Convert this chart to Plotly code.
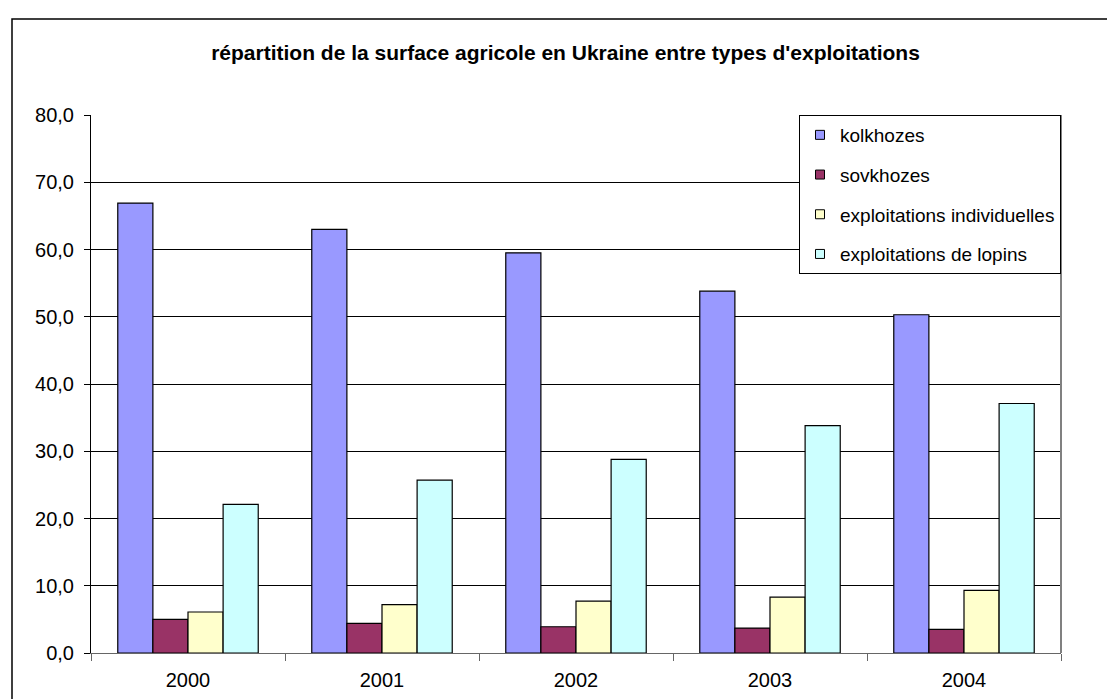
import plotly.graph_objects as go

years = ["2000", "2001", "2002", "2003", "2004"]
kolkhozes = [66.9, 63.0, 59.5, 53.8, 50.3]
sovkhozes = [5.0, 4.4, 3.9, 3.7, 3.5]
individuelles = [6.1, 7.2, 7.7, 8.3, 9.3]
lopins = [22.1, 25.7, 28.8, 33.8, 37.1]

series = [
    ("kolkhozes", kolkhozes, "#9999FF"),
    ("sovkhozes", sovkhozes, "#993366"),
    ("exploitations individuelles", individuelles, "#FFFFCC"),
    ("exploitations de lopins", lopins, "#CCFFFF"),
]

FONT = "Liberation Sans, Arial, sans-serif"

fig = go.Figure()
for name, vals, col in series:
    fig.add_trace(go.Bar(
        x=years, y=vals, name=name, showlegend=False,
        marker=dict(color=col, line=dict(color="black", width=1.2)),
    ))
for i, (name, vals, col) in enumerate(series):
    fig.add_trace(go.Scatter(
        x=[None], y=[None], mode="markers", name=name, legendgroup=f"g{i}",
        marker=dict(symbol="square", size=9, color=col, line=dict(color="black", width=1)),
    ))

W, H = 1115, 699
L, R, T, B = 83, 1053, 107, 645
pw, ph = R - L, B - T

def px(x):
    return (x - L) / pw

def py(y):
    return (B - y) / ph

fig.update_layout(
    width=W, height=H,
    margin=dict(l=L, r=W - R, t=T, b=H - B, pad=0),
    paper_bgcolor="white", plot_bgcolor="white",
    separators=", ",
    barmode="group", bargap=0.276, bargroupgap=0,
    font=dict(family=FONT, color="black", size=19),
    title=dict(
        text="<b>répartition de la surface agricole en Ukraine entre types d'exploitations</b>",
        font=dict(family=FONT, size=21, color="black"),
        x=0.5, xanchor="center", xref="container",
        y=1 - 45 / H, yanchor="middle", yref="container",
    ),
    legend=dict(
        x=1, xanchor="right", y=1, yanchor="top",
        bgcolor="white", bordercolor="black", borderwidth=1,
        font=dict(family=FONT, size=19, color="black"),
        tracegroupgap=12, traceorder="grouped",
    ),
    xaxis=dict(
        type="category", showgrid=False, showline=True, linecolor="#666666", linewidth=1,
        ticks="outside", tickson="boundaries", ticklen=7, tickcolor="#666666",
        tickfont=dict(family=FONT, size=20, color="black"), ticklabelstandoff=9,
        zeroline=False,
    ),
    yaxis=dict(
        range=[0, 80], dtick=10, tickformat=".1f",
        showgrid=True, gridcolor="black", gridwidth=1,
        showline=True, linecolor="black", linewidth=1,
        ticks="outside", ticklen=6, tickcolor="black",
        tickfont=dict(family=FONT, size=20, color="black"), ticklabelstandoff=6,
        zeroline=False,
    ),
    shapes=[
        dict(type="line", xref="paper", yref="paper", x0=1, x1=1, y0=0, y1=1,
             line=dict(color="#808080", width=2), layer="above"),
        dict(type="rect", xref="paper", yref="paper",
             x0=px(4), x1=px(1125), y0=py(11), y1=py(710),
             line=dict(color="black", width=1.5), layer="below"),
    ],
)

fig.write_html("out.html")
